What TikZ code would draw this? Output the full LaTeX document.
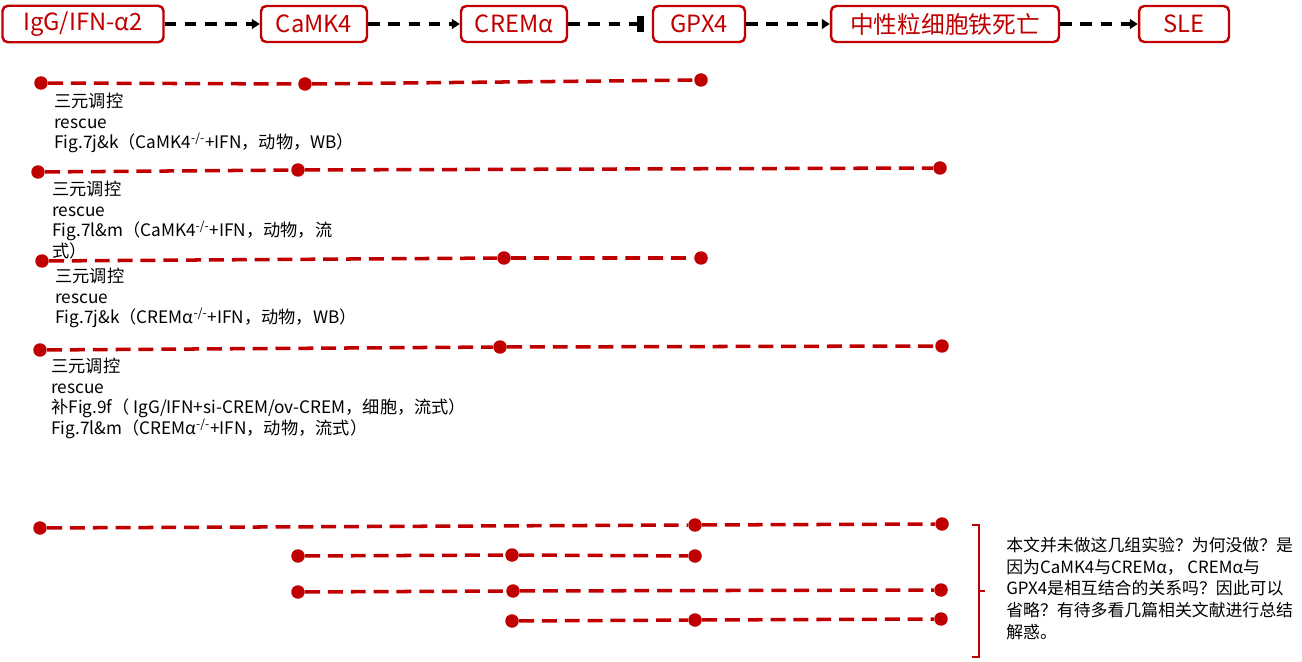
\documentclass[tikz,border=0pt]{standalone}
\usepackage{fontspec}
\setmainfont{Noto Sans CJK SC}
\usetikzlibrary{arrows.meta}
\definecolor{darkred}{RGB}{192,0,0}
\tikzset{
  stage/.style={draw=darkred, text=darkred, line width=1.4pt, rounded corners=3pt,
    minimum height=0.72cm, inner xsep=3pt, font=\fontsize{13.5}{15}\selectfont},
  link/.style={line width=1.8pt, dash pattern=on 6.5pt off 5pt,
    -{Triangle[length=4.5pt,width=5.5pt]}},
  block/.style={line width=1.8pt, dash pattern=on 6.5pt off 5pt,
    -{Rectangle[length=4pt,width=9pt]}, shorten >=4.5pt},
  dot/.style={circle, fill=darkred, inner sep=0pt, minimum size=0.27cm},
  row/.style={darkred, line width=2pt, dash pattern=on 8.5pt off 4.5pt},
  note/.style={anchor=north west, align=left, inner sep=0pt,
    font=\fontsize{9.8}{11.7}\selectfont}
}
\begin{document}
\begin{tikzpicture}[x=0.02cm,y=-0.02cm]
\useasboundingbox (0,0) rectangle (1302,662);
% pathway
\node [stage, minimum width=3.22cm] (igg) at (83,24) {IgG/IFN-α2};
\node [stage, minimum width=2.12cm] (camk) at (314,24) {CaMK4};
\node [stage, minimum width=2.12cm] (crem) at (514,24) {CREMα};
\node [stage, minimum width=1.84cm] (gpx) at (699,24) {GPX4};
\node [stage, minimum width=4.56cm] (ferro) at (945,24) {中性粒细胞铁死亡};
\node [stage, minimum width=1.80cm] (sle) at (1184,24) {SLE};
\draw [link] (igg) -- (camk);
\draw [link] (camk) -- (crem);
\draw [block] (crem) -- (gpx);
\draw [link] (gpx) -- (ferro);
\draw [link] (ferro) -- (sle);

% rescue rows
\node [dot] (a1) at (41,83) {};
\node [dot] (a2) at (305,84) {};
\node [dot] (a3) at (701,80) {};
\draw [row] (a1) -- (a2) -- (a3);
\node [note] (ta) at (54,93) {三元调控\\rescue\\Fig.7j\&k（CaMK4\textsuperscript{-/-}+IFN，动物，WB）};

\node [dot] (b1) at (38,172) {};
\node [dot] (b2) at (298,170) {};
\node [dot] (b3) at (940,168) {};
\draw [row] (b1) -- (b2) -- (b3);
\node [note] (tb) at (52,181) {三元调控\\rescue\\Fig.7l\&m（CaMK4\textsuperscript{-/-}+IFN，动物，流\\式）};

\node [dot] (c1) at (42,261) {};
\node [dot] (c2) at (504,258) {};
\node [dot] (c3) at (701,258) {};
\draw [row] (c1) -- (c2) -- (c3);
\node [note] (tc) at (55,268) {三元调控\\rescue\\Fig.7j\&k（CREMα\textsuperscript{-/-}+IFN，动物，WB）};

\node [dot] (d1) at (40,350) {};
\node [dot] (d2) at (500,347) {};
\node [dot] (d3) at (942,346) {};
\draw [row] (d1) -- (d2) -- (d3);
\node [note] (td) at (51,358) {三元调控\\rescue\\补Fig.9f（ IgG/IFN+si-CREM/ov-CREM，细胞，流式）\\Fig.7l\&m（CREMα\textsuperscript{-/-}+IFN，动物，流式）};

% missing experiments
\node [dot] (e1) at (40,528) {};
\node [dot] (e2) at (695,525) {};
\node [dot] (e3) at (942,524) {};
\draw [row] (e1) -- (e2) -- (e3);

\node [dot] (f1) at (298,556) {};
\node [dot] (f2) at (512,555) {};
\node [dot] (f3) at (695,556) {};
\draw [row] (f1) -- (f2) -- (f3);

\node [dot] (g1) at (298,592) {};
\node [dot] (g2) at (513,591) {};
\node [dot] (g3) at (941,590) {};
\draw [row] (g1) -- (g2) -- (g3);

\node [dot] (h1) at (512,621) {};
\node [dot] (h2) at (695,620) {};
\node [dot] (h3) at (941,619) {};
\draw [row] (h1) -- (h2) -- (h3);

\draw [darkred, line width=1pt] (972,525) -- (979,525) -- (979,657) -- (972,657)
  (979,591) -- (985,591);
\node [note, font=\fontsize{9.6}{12.3}\selectfont] (query) at (1006,537)
  {本文并未做这几组实验？为何没做？是\\因为CaMK4与CREMα， CREMα与\\GPX4是相互结合的关系吗？因此可以\\省略？有待多看几篇相关文献进行总结\\解惑。};
\end{tikzpicture}
\end{document}
